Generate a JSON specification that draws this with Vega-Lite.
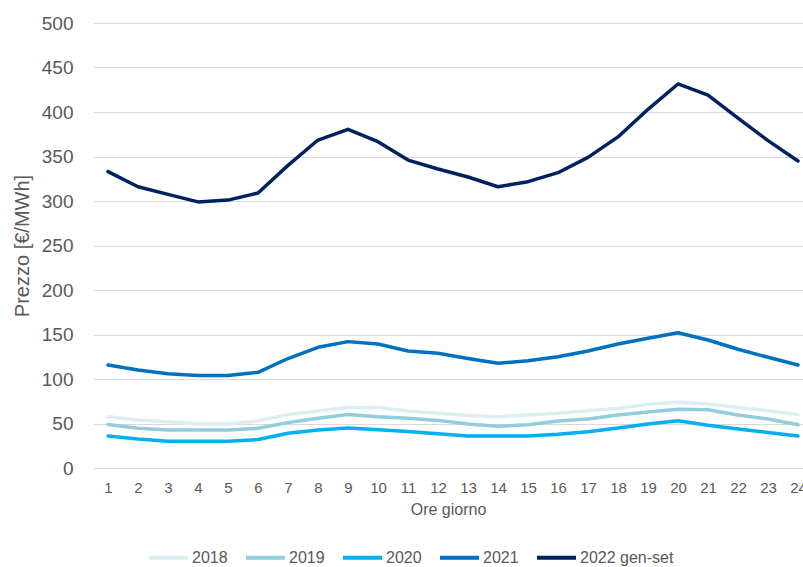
{
  "$schema": "https://vega.github.io/schema/vega-lite/v6.json",
  "width": 710,
  "height": 445,
  "autosize": {"type": "none"},
  "padding": {"left": 93, "top": 23, "right": 0, "bottom": 99},
  "background": "white",
  "config": {"view": {"stroke": null}, "font": "Liberation Sans"},
  "data": {"values": [
    {"ora":1,"anno":"2018","prezzo":57.7},{"ora":2,"anno":"2018","prezzo":54},{"ora":3,"anno":"2018","prezzo":52},{"ora":4,"anno":"2018","prezzo":49.5},{"ora":5,"anno":"2018","prezzo":49.5},{"ora":6,"anno":"2018","prezzo":53},{"ora":7,"anno":"2018","prezzo":60},{"ora":8,"anno":"2018","prezzo":64},{"ora":9,"anno":"2018","prezzo":68},{"ora":10,"anno":"2018","prezzo":68},{"ora":11,"anno":"2018","prezzo":64},{"ora":12,"anno":"2018","prezzo":61.5},{"ora":13,"anno":"2018","prezzo":59},{"ora":14,"anno":"2018","prezzo":57.7},{"ora":15,"anno":"2018","prezzo":59.5},{"ora":16,"anno":"2018","prezzo":61.4},{"ora":17,"anno":"2018","prezzo":64.4},{"ora":18,"anno":"2018","prezzo":67},{"ora":19,"anno":"2018","prezzo":71.5},{"ora":20,"anno":"2018","prezzo":73.8},{"ora":21,"anno":"2018","prezzo":72},{"ora":22,"anno":"2018","prezzo":68},{"ora":23,"anno":"2018","prezzo":64.4},{"ora":24,"anno":"2018","prezzo":60},
    {"ora":1,"anno":"2019","prezzo":49},{"ora":2,"anno":"2019","prezzo":44.6},{"ora":3,"anno":"2019","prezzo":42.7},{"ora":4,"anno":"2019","prezzo":42.7},{"ora":5,"anno":"2019","prezzo":42.7},{"ora":6,"anno":"2019","prezzo":44.6},{"ora":7,"anno":"2019","prezzo":51},{"ora":8,"anno":"2019","prezzo":56},{"ora":9,"anno":"2019","prezzo":60},{"ora":10,"anno":"2019","prezzo":57.6},{"ora":11,"anno":"2019","prezzo":56},{"ora":12,"anno":"2019","prezzo":53.5},{"ora":13,"anno":"2019","prezzo":49.4},{"ora":14,"anno":"2019","prezzo":47},{"ora":15,"anno":"2019","prezzo":48.5},{"ora":16,"anno":"2019","prezzo":52.8},{"ora":17,"anno":"2019","prezzo":55},{"ora":18,"anno":"2019","prezzo":59.5},{"ora":19,"anno":"2019","prezzo":63},{"ora":20,"anno":"2019","prezzo":66},{"ora":21,"anno":"2019","prezzo":65.5},{"ora":22,"anno":"2019","prezzo":59.5},{"ora":23,"anno":"2019","prezzo":55},{"ora":24,"anno":"2019","prezzo":48.6},
    {"ora":1,"anno":"2020","prezzo":36},{"ora":2,"anno":"2020","prezzo":32.5},{"ora":3,"anno":"2020","prezzo":30},{"ora":4,"anno":"2020","prezzo":30},{"ora":5,"anno":"2020","prezzo":30},{"ora":6,"anno":"2020","prezzo":32},{"ora":7,"anno":"2020","prezzo":39},{"ora":8,"anno":"2020","prezzo":42.7},{"ora":9,"anno":"2020","prezzo":45},{"ora":10,"anno":"2020","prezzo":43},{"ora":11,"anno":"2020","prezzo":41},{"ora":12,"anno":"2020","prezzo":38.5},{"ora":13,"anno":"2020","prezzo":36},{"ora":14,"anno":"2020","prezzo":36},{"ora":15,"anno":"2020","prezzo":36},{"ora":16,"anno":"2020","prezzo":37.8},{"ora":17,"anno":"2020","prezzo":40.8},{"ora":18,"anno":"2020","prezzo":45},{"ora":19,"anno":"2020","prezzo":49.4},{"ora":20,"anno":"2020","prezzo":53},{"ora":21,"anno":"2020","prezzo":48},{"ora":22,"anno":"2020","prezzo":43.8},{"ora":23,"anno":"2020","prezzo":40},{"ora":24,"anno":"2020","prezzo":36},
    {"ora":1,"anno":"2021","prezzo":115.7},{"ora":2,"anno":"2021","prezzo":110},{"ora":3,"anno":"2021","prezzo":106},{"ora":4,"anno":"2021","prezzo":104},{"ora":5,"anno":"2021","prezzo":104},{"ora":6,"anno":"2021","prezzo":107.5},{"ora":7,"anno":"2021","prezzo":123},{"ora":8,"anno":"2021","prezzo":135.6},{"ora":9,"anno":"2021","prezzo":142},{"ora":10,"anno":"2021","prezzo":139.3},{"ora":11,"anno":"2021","prezzo":131.5},{"ora":12,"anno":"2021","prezzo":129},{"ora":13,"anno":"2021","prezzo":123},{"ora":14,"anno":"2021","prezzo":117.6},{"ora":15,"anno":"2021","prezzo":120.6},{"ora":16,"anno":"2021","prezzo":125},{"ora":17,"anno":"2021","prezzo":131.5},{"ora":18,"anno":"2021","prezzo":139.3},{"ora":19,"anno":"2021","prezzo":145.7},{"ora":20,"anno":"2021","prezzo":152},{"ora":21,"anno":"2021","prezzo":143.8},{"ora":22,"anno":"2021","prezzo":133.4},{"ora":23,"anno":"2021","prezzo":124.4},{"ora":24,"anno":"2021","prezzo":115.7},
    {"ora":1,"anno":"2022 gen-set","prezzo":333},{"ora":2,"anno":"2022 gen-set","prezzo":316},{"ora":3,"anno":"2022 gen-set","prezzo":307.5},{"ora":4,"anno":"2022 gen-set","prezzo":299},{"ora":5,"anno":"2022 gen-set","prezzo":301},{"ora":6,"anno":"2022 gen-set","prezzo":309},{"ora":7,"anno":"2022 gen-set","prezzo":340},{"ora":8,"anno":"2022 gen-set","prezzo":368.5},{"ora":9,"anno":"2022 gen-set","prezzo":380.5},{"ora":10,"anno":"2022 gen-set","prezzo":366.6},{"ora":11,"anno":"2022 gen-set","prezzo":346},{"ora":12,"anno":"2022 gen-set","prezzo":336},{"ora":13,"anno":"2022 gen-set","prezzo":327},{"ora":14,"anno":"2022 gen-set","prezzo":316},{"ora":15,"anno":"2022 gen-set","prezzo":321.7},{"ora":16,"anno":"2022 gen-set","prezzo":331.8},{"ora":17,"anno":"2022 gen-set","prezzo":349},{"ora":18,"anno":"2022 gen-set","prezzo":372},{"ora":19,"anno":"2022 gen-set","prezzo":403},{"ora":20,"anno":"2022 gen-set","prezzo":431.5},{"ora":21,"anno":"2022 gen-set","prezzo":419},{"ora":22,"anno":"2022 gen-set","prezzo":393},{"ora":23,"anno":"2022 gen-set","prezzo":367.8},{"ora":24,"anno":"2022 gen-set","prezzo":345}
  ]},
  "mark": {"type": "line", "strokeWidth": 3.5, "strokeJoin": "round", "strokeCap": "round"},
  "encoding": {
    "x": {
      "field": "ora", "type": "quantitative",
      "scale": {"domain": [0.5, 24.1667], "nice": false, "zero": false},
      "axis": {
        "values": [1,2,3,4,5,6,7,8,9,10,11,12,13,14,15,16,17,18,19,20,21,22,23,24],
        "format": "d", "title": "Ore giorno", "grid": false, "domain": false, "ticks": false,
        "labelFontSize": 15, "labelColor": "#595959", "labelPadding": 12,
        "labelBound": false, "labelFlush": false, "labelOverlap": false,
        "titleFontSize": 16, "titleFontWeight": "normal", "titleColor": "#595959", "titlePadding": 6
      }
    },
    "y": {
      "field": "prezzo", "type": "quantitative",
      "scale": {"domain": [0, 500], "nice": false},
      "axis": {
        "values": [0,50,100,150,200,250,300,350,400,450,500],
        "title": "Prezzo [€/MWh]", "grid": true, "gridColor": "#D9D9D9", "gridWidth": 1,
        "domain": false, "ticks": false,
        "labelFontSize": 19, "labelColor": "#595959", "labelPadding": 20,
        "titleFontSize": 20, "titleFontWeight": "normal", "titleColor": "#595959", "titlePadding": 9
      }
    },
    "color": {
      "field": "anno", "type": "nominal",
      "scale": {
        "domain": ["2018", "2019", "2020", "2021", "2022 gen-set"],
        "range": ["#DAEEF3", "#92CDDC", "#00B0F0", "#0070C0", "#002060"]
      },
      "legend": {
        "title": null, "orient": "none", "direction": "horizontal",
        "legendX": 54, "legendY": 513,
        "symbolType": "stroke", "symbolSize": 1521, "symbolStrokeWidth": 4,
        "labelFontSize": 16, "labelColor": "#595959", "columnPadding": 10, "labelOffset": 2
      }
    }
  }
}
